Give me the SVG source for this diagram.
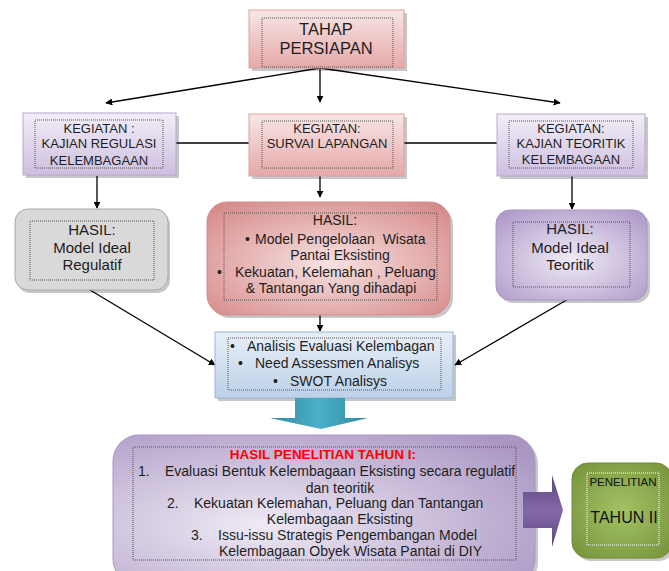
<svg xmlns="http://www.w3.org/2000/svg" width="669" height="571" viewBox="0 0 669 571">
<defs>
<style>
text{font-family:"Liberation Sans",Arial,sans-serif;fill:#1e1e1e}
.k{font-size:13px;text-anchor:middle}
.h{font-size:15px;text-anchor:middle}
.m{font-size:14px}
.mc{font-size:14px;text-anchor:middle}
.dot{fill:none;stroke:#555;stroke-width:1;stroke-dasharray:1 1}
.sh{fill:#000;opacity:0.22}
.ln{stroke:#000;stroke-width:1.3;fill:none}
</style>
<marker id="ah" viewBox="0 0 10 10" refX="9" refY="5" markerWidth="7" markerHeight="7" orient="auto" markerUnits="userSpaceOnUse">
<path d="M0,0 L10,5 L0,10 z" fill="#000"/>
</marker>
<linearGradient id="pink" x1="0" y1="0" x2="0" y2="1">
<stop offset="0" stop-color="#f8e6e6"/><stop offset="1" stop-color="#e6a8a8"/>
</linearGradient>
<linearGradient id="lav" x1="0" y1="0" x2="0" y2="1">
<stop offset="0" stop-color="#f2eef7"/><stop offset="1" stop-color="#cdbfe0"/>
</linearGradient>
<radialGradient id="redr" cx="0.5" cy="0.55" r="0.7">
<stop offset="0" stop-color="#f7e2e2"/><stop offset="1" stop-color="#d68888"/>
</radialGradient>
<radialGradient id="purr" cx="0.5" cy="0.55" r="0.7">
<stop offset="0" stop-color="#f0ebf5"/><stop offset="1" stop-color="#ad98c8"/>
</radialGradient>
<linearGradient id="blue" x1="0" y1="0" x2="0" y2="1">
<stop offset="0" stop-color="#e8eff8"/><stop offset="1" stop-color="#bcd0e8"/>
</linearGradient>
<linearGradient id="teal" x1="0" y1="0" x2="1" y2="0">
<stop offset="0" stop-color="#2f8aa0"/><stop offset="0.5" stop-color="#4cb0c8"/><stop offset="1" stop-color="#2f8aa0"/>
</linearGradient>
<radialGradient id="bigp" cx="0.35" cy="0.6" r="0.8">
<stop offset="0" stop-color="#efeaf4"/><stop offset="1" stop-color="#a996c3"/>
</radialGradient>
<linearGradient id="parr" x1="0" y1="0" x2="0" y2="1">
<stop offset="0" stop-color="#5c467a"/><stop offset="0.5" stop-color="#8469aa"/><stop offset="1" stop-color="#5c467a"/>
</linearGradient>
<radialGradient id="grn" cx="0.5" cy="0.5" r="0.7">
<stop offset="0" stop-color="#a3c264"/><stop offset="1" stop-color="#76923a"/>
</radialGradient>
</defs>
<rect width="669" height="571" fill="#fff"/>

<g id="connectors">
<line class="ln" x1="320" y1="68" x2="106" y2="103" marker-end="url(#ah)"/>
<line class="ln" x1="320" y1="68" x2="320" y2="102" marker-end="url(#ah)"/>
<line class="ln" x1="320" y1="68" x2="560" y2="103" marker-end="url(#ah)"/>
<line class="ln" x1="176" y1="143" x2="249" y2="143"/>
<line class="ln" x1="404" y1="143" x2="497" y2="143"/>
<line class="ln" x1="97" y1="176" x2="97" y2="208" marker-end="url(#ah)"/>
<line class="ln" x1="320" y1="176" x2="320" y2="197" marker-end="url(#ah)"/>
<line class="ln" x1="572" y1="176" x2="572" y2="209" marker-end="url(#ah)"/>
<line class="ln" x1="90" y1="290" x2="215" y2="365" marker-end="url(#ah)"/>
<line class="ln" x1="320" y1="315" x2="320" y2="331" marker-end="url(#ah)"/>
<line class="ln" x1="570" y1="298" x2="455" y2="365" marker-end="url(#ah)"/>
</g>

<g id="tahap-persiapan">
<rect class="sh" x="252" y="13" width="155" height="58"/>
<rect x="249" y="10" width="155" height="58" fill="url(#pink)" stroke="#dda2a2"/>
<rect class="dot" x="262" y="18" width="131" height="49"/>
<text x="326" y="35" style="font-size:16.5px;text-anchor:middle">TAHAP</text>
<text x="326" y="54" style="font-size:16.5px;text-anchor:middle">PERSIAPAN</text>
</g>

<g id="kegiatan-regulasi">
<rect class="sh" x="26" y="116" width="153" height="62"/>
<rect x="23" y="113" width="153" height="62" fill="url(#lav)" stroke="#b8a8d0"/>
<rect class="dot" x="35" y="120" width="128" height="48"/>
<text class="k" x="99" y="133">KEGIATAN :</text>
<text class="k" x="99" y="148">KAJIAN REGULASI</text>
<text class="k" x="99" y="165">KELEMBAGAAN</text>
</g>

<g id="kegiatan-survai">
<rect class="sh" x="252" y="117" width="155" height="62"/>
<rect x="249" y="114" width="155" height="62" fill="url(#pink)" stroke="#dda2a2"/>
<rect class="dot" x="262" y="121" width="131" height="47"/>
<text class="k" x="327" y="133">KEGIATAN:</text>
<text class="k" x="327" y="148">SURVAI LAPANGAN</text>
</g>

<g id="kegiatan-teoritik">
<rect class="sh" x="500" y="117" width="148" height="62"/>
<rect x="497" y="114" width="148" height="62" fill="url(#lav)" stroke="#b8a8d0"/>
<rect class="dot" x="509" y="121" width="124" height="47"/>
<text class="k" x="571" y="133">KEGIATAN:</text>
<text class="k" x="571" y="148">KAJIAN TEORITIK</text>
<text class="k" x="571" y="164">KELEMBAGAAN</text>
</g>

<g id="hasil-regulatif">
<rect class="sh" x="17" y="212" width="153" height="81" rx="13"/>
<rect x="15" y="209" width="153" height="81" rx="13" fill="#d9d9d9" stroke="#a8a8a8"/>
<rect class="dot" x="30" y="221" width="124" height="59"/>
<text class="h" x="92" y="235">HASIL:</text>
<text class="h" x="92" y="253">Model Ideal</text>
<text class="h" x="92" y="270">Regulatif</text>
</g>

<g id="hasil-survai">
<rect class="sh" x="210" y="205" width="243" height="113" rx="20"/>
<rect x="207" y="202" width="243" height="113" rx="20" fill="url(#redr)" stroke="#d08e8e"/>
<rect class="dot" x="224" y="213" width="213" height="87"/>
<text class="mc" x="335" y="225">HASIL:</text>
<text class="m" x="245" y="244">•</text>
<text class="m" x="255" y="244" style="white-space:pre">Model Pengelolaan  Wisata</text>
<text class="mc" x="340" y="260">Pantai Eksisting</text>
<text class="m" x="217" y="277">•</text>
<text class="m" x="235" y="277">Kekuatan, Kelemahan , Peluang</text>
<text class="mc" x="331" y="293">&amp; Tantangan Yang dihadapi</text>
</g>

<g id="hasil-teoritik">
<rect class="sh" x="499" y="213" width="151" height="90" rx="14"/>
<rect x="496" y="210" width="151" height="90" rx="14" fill="url(#purr)" stroke="#a893c4"/>
<rect class="dot" x="513" y="222" width="117" height="65"/>
<text class="h" x="570" y="234">HASIL:</text>
<text class="h" x="570" y="253">Model Ideal</text>
<text class="h" x="570" y="270">Teoritik</text>
</g>

<g id="analisis">
<rect class="sh" x="218" y="335" width="238" height="66"/>
<rect x="215" y="332" width="238" height="66" fill="url(#blue)" stroke="#9ab6d8"/>
<rect class="dot" x="228" y="338" width="213" height="52"/>
<text class="m" x="230" y="351">•</text>
<text class="m" x="247" y="351">Analisis Evaluasi Kelembagan</text>
<text class="m" x="238" y="368">•</text>
<text class="m" x="255" y="368">Need Assessmen Analisys</text>
<text class="m" x="273" y="386">•</text>
<text class="m" x="290" y="386">SWOT Analisys</text>
</g>

<g id="arrow-down">
<path d="M295,398 H345 V418 H368 L321,429 L270,418 H295 Z" fill="url(#teal)"/>
</g>

<g id="hasil-tahun-1">
<rect class="sh" x="116" y="438" width="422" height="150" rx="26"/>
<rect x="113" y="435" width="422" height="150" rx="26" fill="url(#bigp)" stroke="#a996c3"/>
<rect class="dot" x="133" y="447" width="383" height="113"/>
<text x="323" y="459" style="font-size:13.5px;font-weight:bold;fill:#ff0000;text-anchor:middle">HASIL PENELITIAN TAHUN I:</text>
<text class="m" x="138" y="476">1.</text>
<text class="m" x="165" y="476">Evaluasi Bentuk Kelembagaan Eksisting secara regulatif</text>
<text class="mc" x="340" y="493">dan teoritik</text>
<text class="m" x="167" y="508">2.</text>
<text class="m" x="194" y="508">Kekuatan Kelemahan, Peluang dan Tantangan</text>
<text class="mc" x="340" y="524">Kelembagaan Eksisting</text>
<text class="m" x="191" y="540">3.</text>
<text class="m" x="218" y="540">Issu-issu Strategis Pengembangan Model</text>
<text class="m" x="219" y="556">Kelembagaan Obyek Wisata Pantai di DIY</text>
</g>

<g id="arrow-right">
<path d="M523,492 H552 V475 L563,510 L552,547 V528 H523 Z" fill="url(#parr)"/>
</g>

<g id="tahun-2">
<rect class="sh" x="575" y="466" width="100" height="95" rx="16"/>
<rect x="572" y="463" width="100" height="95" rx="16" fill="url(#grn)" stroke="#6f8a36"/>
<rect class="dot" x="587" y="473" width="72" height="72" style="stroke:#fff"/>
<text x="623" y="486" style="font-size:11.5px;text-anchor:middle;fill:#111">PENELITIAN</text>
<text x="624" y="523" style="font-size:16px;text-anchor:middle;fill:#111">TAHUN II</text>
</g>
</svg>
